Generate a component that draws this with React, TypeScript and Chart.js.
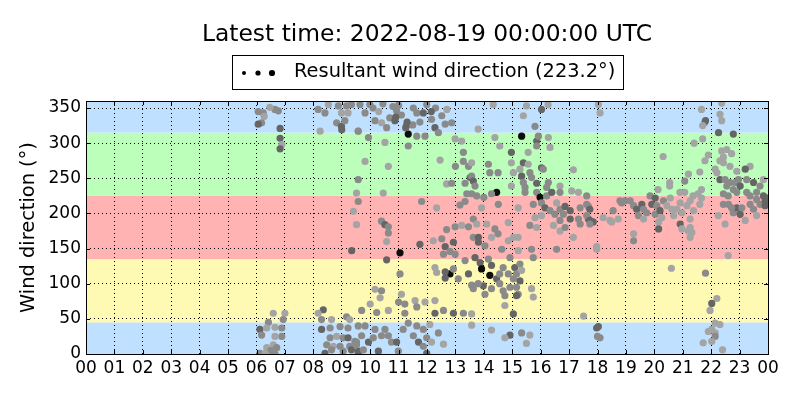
import React, { useEffect, useRef } from "react";
import Chart from "chart.js/auto";

// title / legend text
const latestTime = "2022-08-19 00:00:00 UTC";
const resultantDirection = 223.2;

// axis ticks
const directionTicks = [0, 50, 100, 150, 200, 250, 300, 350];

// direction sectors (degrees) and their fill colours
const sectorLimits = [0, 45, 135, 225, 315, 360];
const sectorColors = ["#bfe0ff", "#fffab3", "#ffb3b3", "#bbffbb", "#bfe0ff"];

// observations: [hour of day, direction (deg), speed class 0..3]
const obsMorning: number[][] = [
  [6.06, 345, 1], [6.24, 343, 1], [6.27, 338, 0], [6.18, 329, 1], [6.06, 327, 2], [6.65, 348, 1],
  [6.77, 346, 1], [6.47, 351, 0], [6.83, 321, 2], [6.83, 307, 2], [6.89, 298, 0], [6.83, 292, 2],
  [6.59, 58, 0], [7.0, 58, 0], [6.42, 45, 1], [6.94, 49, 1], [6.12, 35, 2], [6.18, 27, 1],
  [6.36, 37, 0], [6.65, 38, 0], [6.89, 37, 1], [6.89, 25, 1], [6.65, 25, 0], [6.59, 13, 0],
  [6.71, 9, 1], [6.36, 9, 0], [6.5, 5, 1], [6.12, 1, 1], [6.3, 1, 0], [6.65, 0, 1],
  [8.17, 348, 1], [8.41, 343, 1], [8.53, 355, 0], [8.88, 353, 1], [8.99, 343, 0], [8.24, 317, 0],
  [8.82, 329, 1], [8.99, 324, 2], [9.0, 319, 2], [9.17, 353, 1], [9.22, 343, 0], [9.34, 355, 1],
  [9.11, 332, 1], [9.58, 317, 0],
  [8.35, 63, 2], [8.17, 58, 0], [8.29, 49, 1], [8.64, 49, 0], [8.29, 35, 2], [8.59, 37, 1],
  [8.94, 39, 1], [9.17, 53, 1], [9.28, 49, 0], [9.22, 37, 1], [8.59, 23, 1], [8.82, 25, 0],
  [9.05, 23, 1], [9.22, 23, 2], [8.47, 13, 1], [8.7, 11, 0], [8.94, 11, 1], [9.28, 11, 1],
  [9.46, 18, 1], [8.41, 1, 2], [8.64, 6, 1], [9.05, 4, 1], [9.34, 6, 2], [9.58, 4, 2], [9.52, 13, 1],
];

const obsMidday: number[][] = [
  [9.52, 229, 0], [9.41, 203, 0], [9.52, 184, 0], [9.35, 147, 2],
  [9.64, 355, 1], [9.82, 343, 1], [9.99, 355, 1], [10.17, 332, 1], [10.4, 329, 0], [10.58, 322, 1],
  [10.69, 336, 1], [10.87, 332, 2], [10.93, 346, 1], [11.28, 325, 2], [11.34, 313, 3], [11.52, 350, 1],
  [11.64, 343, 1], [11.87, 343, 2], [11.99, 355, 1], [12.16, 334, 1], [12.28, 322, 2], [12.4, 315, 1],
  [12.52, 339, 1], [12.64, 327, 1], [12.87, 329, 1], [9.58, 317, 1], [9.94, 308, 1], [11.34, 296, 1],
  [11.64, 310, 1], [11.93, 310, 1], [10.52, 301, 0], [12.99, 306, 0], [13.22, 303, 0],
  [10.1, 350, 1], [10.3, 345, 0], [10.45, 356, 1], [10.8, 352, 1], [11.1, 340, 1], [11.0, 354, 1],
  [12.3, 350, 1], [12.7, 348, 0], [12.15, 345, 2], [11.75, 330, 1], [11.5, 326, 1], [10.9, 337, 2],
  [11.3, 330, 2], [11.25, 322, 2],
  [9.82, 274, 0], [10.64, 267, 0], [12.46, 276, 0], [13.28, 287, 1], [13.28, 274, 1], [13.46, 267, 1],
  [13.0, 267, 1], [9.58, 248, 1], [10.46, 229, 0], [12.69, 242, 0], [12.87, 243, 1], [13.34, 243, 1],
  [13.52, 251, 2], [13.57, 228, 1], [13.4, 228, 1],
  [9.58, 217, 1], [11.81, 217, 1], [12.34, 208, 0], [13.16, 212, 1], [13.34, 217, 1], [10.4, 189, 1],
  [10.52, 184, 2], [10.64, 181, 1], [10.64, 172, 1], [10.58, 160, 0], [12.69, 177, 1],
  [12.99, 181, 1], [13.22, 183, 0], [13.46, 181, 1], [11.75, 156, 2], [12.22, 161, 0], [12.52, 164, 1],
  [12.64, 153, 2], [12.93, 159, 2], [11.05, 144, 3], [10.58, 134, 2], [12.58, 142, 1], [12.81, 146, 1],
  [12.99, 142, 1], [13.34, 133, 1],
  [12.81, 114, 3], [12.64, 117, 2], [12.64, 108, 2], [12.93, 121, 1], [12.34, 116, 0], [12.28, 123, 0],
  [13.46, 114, 2], [13.1, 107, 1], [13.57, 98, 1], [11.05, 114, 1], [10.17, 92, 0], [10.4, 90, 1],
  [10.35, 80, 0], [11.1, 85, 0], [11.0, 74, 1], [11.22, 71, 1], [11.58, 76, 0], [11.64, 67, 1],
  [11.93, 74, 0], [12.28, 76, 0], [12.58, 62, 1], [9.7, 62, 1], [10.0, 71, 0], [10.23, 59, 1],
  [10.64, 62, 0], [11.22, 58, 1], [12.28, 58, 2], [12.93, 58, 2], [13.28, 58, 1],
  [9.58, 40, 1], [9.82, 40, 1], [9.7, 26, 1], [9.94, 17, 2], [9.52, 17, 1], [10.17, 35, 1],
  [10.11, 23, 1], [10.29, 4, 2], [10.4, 26, 1], [10.64, 26, 1], [10.52, 35, 1], [10.75, 17, 1],
  [10.93, 17, 2], [10.99, 4, 1], [11.16, 35, 1], [11.34, 44, 1], [11.52, 26, 1], [11.64, 40, 1],
  [11.7, 17, 2], [11.87, 35, 1], [11.87, 11, 1], [11.99, 23, 1], [12.16, 17, 0], [12.1, 42, 0],
  [12.4, 30, 1], [12.58, 14, 0], [11.99, 1, 2], [9.58, 1, 2], [9.76, 6, 1],
];

const obsAfternoon: number[][] = [
  [14.33, 355, 0], [15.5, 353, 0], [16.26, 355, 0], [16.03, 348, 2], [15.39, 339, 0], [13.8, 320, 0],
  [15.8, 324, 1],
  [15.33, 310, 3], [15.86, 303, 2], [15.92, 310, 1], [15.86, 296, 1], [16.27, 308, 0], [16.33, 294, 0],
  [14.39, 308, 0], [14.56, 296, 0], [14.97, 287, 2], [15.56, 287, 0], [13.57, 272, 0], [14.16, 270, 1],
  [14.97, 272, 0], [15.39, 272, 2], [15.56, 270, 0], [15.27, 263, 0], [16.03, 265, 2], [16.09, 263, 1],
  [14.21, 258, 1], [14.5, 258, 1], [15.04, 258, 0], [15.33, 253, 2], [15.62, 258, 1], [15.68, 251, 1],
  [14.97, 239, 0], [15.39, 244, 1], [15.45, 237, 1], [15.86, 243, 2], [16.27, 244, 1], [16.68, 239, 0],
  [17.15, 262, 0], [13.57, 253, 1], [13.63, 246, 2], [13.69, 239, 1], [14.45, 230, 3], [14.27, 228, 1],
  [13.75, 225, 1], [15.45, 230, 1], [15.86, 230, 1], [15.98, 223, 3], [16.21, 225, 1], [16.21, 237, 1],
  [16.39, 230, 2], [17.09, 232, 0], [17.33, 230, 0], [16.68, 230, 1],
  [14.0, 223, 1], [13.92, 208, 0], [14.51, 213, 1], [15.21, 208, 0], [15.74, 213, 1], [16.03, 215, 1],
  [16.15, 208, 2], [16.33, 204, 1], [16.56, 215, 0], [16.68, 206, 1], [16.86, 210, 2], [17.04, 204, 2],
  [17.39, 208, 1], [17.68, 210, 1], [16.5, 199, 1], [16.8, 199, 1], [17.04, 192, 2], [17.33, 192, 1],
  [17.39, 185, 1], [16.68, 190, 1], [16.45, 183, 0], [16.68, 175, 0], [16.86, 180, 1], [17.15, 166, 0],
  [17.68, 192, 2], [13.63, 192, 1], [13.75, 185, 0], [14.1, 185, 0], [14.39, 178, 1], [14.86, 187, 0],
  [15.62, 183, 1], [15.8, 194, 0], [16.03, 197, 0], [15.86, 180, 0], [13.63, 166, 1], [13.81, 166, 2],
  [14.27, 166, 0], [14.5, 171, 1], [14.86, 161, 0], [15.04, 166, 0], [15.21, 166, 0], [13.81, 159, 2],
  [14.04, 154, 1], [14.63, 149, 1], [14.92, 137, 1], [15.21, 147, 0], [15.68, 149, 1], [15.74, 137, 1],
  [16.56, 149, 1], [17.97, 153, 0],
  [13.69, 137, 2], [13.87, 130, 2], [13.92, 121, 3], [14.16, 135, 1], [14.27, 126, 2], [14.21, 112, 3],
  [14.45, 107, 2], [14.56, 114, 1], [14.68, 123, 1], [14.86, 114, 1], [15.09, 123, 2], [15.15, 114, 1],
  [15.27, 128, 1], [15.33, 119, 0], [15.04, 107, 1], [15.27, 104, 2], [13.98, 97, 2], [14.27, 93, 1],
  [14.56, 100, 1], [14.68, 90, 1], [14.92, 95, 1], [15.15, 95, 1], [15.21, 85, 1], [15.15, 83, 2],
  [14.74, 83, 1], [13.63, 93, 1], [13.8, 100, 1], [14.04, 85, 1], [15.68, 93, 0], [15.74, 81, 0],
  [14.74, 69, 0], [15.04, 57, 2], [13.57, 57, 0], [17.51, 54, 0],
  [13.57, 41, 0], [14.27, 34, 0], [14.92, 27, 2], [14.74, 23, 0], [15.33, 30, 1], [15.62, 27, 0],
  [15.5, 15, 0], [17.97, 37, 2], [18.0, 25, 1],
];

const obsEvening: number[][] = [
  [18.03, 355, 0], [18.09, 343, 0], [21.66, 348, 0], [22.37, 357, 0], [22.31, 341, 0], [22.37, 332, 0],
  [21.77, 329, 1], [21.8, 332, 2], [21.7, 325, 0], [22.26, 315, 2], [22.78, 313, 2], [21.7, 306, 0],
  [21.4, 300, 0],
  [20.31, 281, 0], [21.9, 283, 0], [21.78, 275, 0], [22.37, 289, 0], [22.55, 291, 0], [22.72, 285, 0],
  [22.43, 280, 0], [22.31, 275, 0], [22.43, 272, 0], [22.66, 267, 0], [22.14, 263, 0], [22.2, 258, 0],
  [23.37, 267, 0], [23.2, 263, 2], [22.9, 260, 0], [21.6, 259, 0], [21.2, 256, 0], [21.07, 246, 1],
  [20.54, 244, 0], [20.54, 239, 0], [20.13, 234, 0], [21.66, 234, 0], [22.31, 248, 2], [22.49, 248, 1],
  [22.66, 244, 1], [22.84, 244, 1], [22.96, 248, 1], [23.25, 248, 1], [23.49, 244, 2], [23.72, 239, 1],
  [23.84, 248, 0], [23.02, 239, 2], [22.78, 234, 1], [22.55, 239, 1], [22.43, 228, 1], [22.6, 225, 1],
  [22.9, 230, 1], [23.25, 230, 1], [23.37, 225, 1], [23.6, 230, 1], [23.84, 225, 2], [20.9, 230, 0],
  [21.07, 230, 0], [21.36, 225, 0], [21.54, 228, 0],
  [17.62, 225, 1], [17.62, 213, 1], [17.73, 206, 2], [17.62, 197, 1], [17.73, 190, 2], [17.85, 188, 2],
  [17.73, 185, 1], [18.2, 194, 0], [18.44, 190, 0], [18.5, 188, 0], [18.73, 192, 0], [18.55, 204, 1],
  [18.79, 218, 1], [18.85, 215, 1], [18.97, 218, 1], [19.15, 218, 1], [19.27, 211, 1], [19.38, 206, 2],
  [19.56, 213, 2], [19.62, 206, 1], [19.73, 201, 1], [19.44, 197, 1], [19.62, 192, 0], [19.85, 225, 1],
  [19.91, 213, 2], [20.03, 222, 2], [20.09, 211, 1], [20.03, 199, 1], [20.2, 204, 2], [20.26, 194, 0],
  [20.15, 188, 0], [20.15, 178, 2], [20.32, 218, 1], [20.44, 211, 0], [20.56, 222, 0], [20.62, 206, 0],
  [20.68, 197, 0], [20.79, 206, 0], [20.91, 215, 0], [20.97, 201, 0], [20.91, 185, 2], [20.97, 178, 0],
  [21.15, 211, 0], [21.26, 218, 0], [21.38, 204, 0], [21.26, 192, 0], [21.26, 180, 0], [21.32, 173, 0],
  [21.26, 166, 0], [21.6, 213, 0], [21.66, 222, 0], [21.2, 175, 0], [19.27, 171, 0], [19.27, 161, 1],
  [17.97, 149, 0],
  [22.25, 197, 0], [22.49, 185, 0], [22.61, 213, 1], [22.78, 201, 1], [23.02, 199, 2], [22.9, 208, 2],
  [23.08, 208, 1], [23.2, 190, 0], [23.37, 213, 1], [23.49, 206, 1], [23.6, 197, 0], [23.72, 213, 1],
  [23.9, 218, 2], [23.9, 211, 2], [23.6, 220, 1], [22.72, 208, 1], [22.43, 213, 1], [23.97, 215, 2],
  [23.97, 222, 2],
  [22.6, 140, 0], [20.6, 122, 0], [21.8, 115, 1], [22.2, 79, 0], [22.02, 72, 2], [21.96, 62, 0],
  [18.03, 39, 2], [18.09, 23, 1], [22.14, 44, 0], [22.31, 42, 0], [22.02, 35, 0], [22.14, 30, 0],
  [21.9, 32, 0], [22.14, 25, 1], [22.02, 18, 0], [21.72, 16, 0], [22.4, 6, 0],
];

const speedGreys = ["#a4a4a4", "#8a8a8a", "#656565", "#0d0d0d"];
const FONT = "DejaVu Sans";

export default function App() {
  const canvasRef = useRef<HTMLCanvasElement>(null);

  useEffect(() => {
    document.body.style.margin = "0";
    const canvas = canvasRef.current;
    if (!canvas) return;

    const all = [...obsMorning, ...obsMidday, ...obsAfternoon, ...obsEvening];

    const decor = {
      id: "decor",
      beforeDraw(chart: any) {
        const { ctx, chartArea: a, scales } = chart;
        const y = scales.y;
        ctx.save();
        for (let i = 0; i < sectorColors.length; i++) {
          const top = y.getPixelForValue(sectorLimits[i + 1]);
          const bottom = y.getPixelForValue(sectorLimits[i]);
          ctx.fillStyle = sectorColors[i];
          ctx.fillRect(a.left, top, a.right - a.left, bottom - top);
        }
        ctx.restore();
      },
      afterDraw(chart: any) {
        const { ctx, chartArea: a, scales } = chart;
        ctx.save();
        // frame
        ctx.strokeStyle = "#000";
        ctx.lineWidth = 1;
        ctx.strokeRect(a.left + 0.5, a.top + 0.5, a.right - a.left, a.bottom - a.top);
        // inward ticks
        ctx.beginPath();
        for (let h = 0; h <= 24; h++) {
          const px = Math.round(scales.x.getPixelForValue(h)) + 0.5;
          ctx.moveTo(px, a.bottom); ctx.lineTo(px, a.bottom - 4);
          ctx.moveTo(px, a.top); ctx.lineTo(px, a.top + 4);
        }
        directionTicks.forEach((d) => {
          const py = Math.round(scales.y.getPixelForValue(d)) + 0.5;
          ctx.moveTo(a.left, py); ctx.lineTo(a.left + 4, py);
          ctx.moveTo(a.right, py); ctx.lineTo(a.right - 4, py);
        });
        ctx.stroke();

        const cx = (a.left + a.right) / 2;
        // title
        ctx.fillStyle = "#000";
        ctx.font = `23.4px "${FONT}"`;
        ctx.textAlign = "center";
        ctx.textBaseline = "middle";
        ctx.fillText(`Latest time: ${latestTime}`, cx, 35);

        // legend
        ctx.fillStyle = "#fff";
        ctx.fillRect(232, 55, 391, 34);
        ctx.strokeRect(232.5, 55.5, 391, 34);
        ctx.fillStyle = "#000";
        [[244, 2], [258, 2.6], [272, 3.1]].forEach(([px, r]) => {
          ctx.beginPath();
          ctx.arc(px, 73, r, 0, Math.PI * 2);
          ctx.fill();
        });
        ctx.font = `19.4px "${FONT}"`;
        ctx.textAlign = "left";
        ctx.fillText(`Resultant wind direction (${resultantDirection.toFixed(1)}°)`, 294, 72);

        // y axis label
        ctx.translate(29, (a.top + a.bottom) / 2);
        ctx.rotate(-Math.PI / 2);
        ctx.textAlign = "center";
        ctx.fillText("Wind direction (°)", 0, 0);
        ctx.restore();
      },
    };

    const chart = new Chart(canvas, {
      type: "scatter",
      data: {
        datasets: [
          {
            label: "Resultant wind direction",
            data: all.map((p) => ({ x: p[0], y: p[1] })),
            pointBackgroundColor: all.map((p) => speedGreys[p[2]]),
            pointBorderWidth: 0,
            pointRadius: 3.6,
            pointHoverRadius: 3.6,
          },
        ],
      },
      options: {
        responsive: false,
        animation: false,
        events: [],
        layout: { padding: { top: 101, right: 32, left: 0, bottom: 0 } },
        plugins: {
          legend: { display: false },
          title: { display: false },
          tooltip: { enabled: false },
        },
        scales: {
          x: {
            type: "linear",
            min: 0,
            max: 24,
            afterFit: (s: any) => { s.height = 46; },
            grid: { color: "#000", lineWidth: 1, drawTicks: false },
            border: { display: false, dash: [1, 3] },
            ticks: {
              stepSize: 1,
              autoSkip: false,
              maxRotation: 0,
              padding: 4,
              color: "#000",
              font: { family: FONT, size: 17 },
              callback: (v: any) => String(Number(v) % 24).padStart(2, "0"),
            },
          },
          y: {
            min: 0,
            max: 360,
            afterFit: (s: any) => { s.width = 86; },
            afterBuildTicks: (s: any) => {
              s.ticks = directionTicks.map((v) => ({ value: v }));
            },
            grid: { color: "#000", lineWidth: 1, drawTicks: false },
            border: { display: false, dash: [1, 3] },
            ticks: {
              padding: 5,
              color: "#000",
              font: { family: FONT, size: 17 },
              callback: (v: any) => String(v),
            },
          },
        },
      },
      plugins: [decor],
    });

    return () => chart.destroy();
  }, []);

  return (
    <div style={{ position: "absolute", left: 0, top: 0, width: 800, height: 400, background: "#fff" }}>
      <canvas ref={canvasRef} width={800} height={400} />
    </div>
  );
}
